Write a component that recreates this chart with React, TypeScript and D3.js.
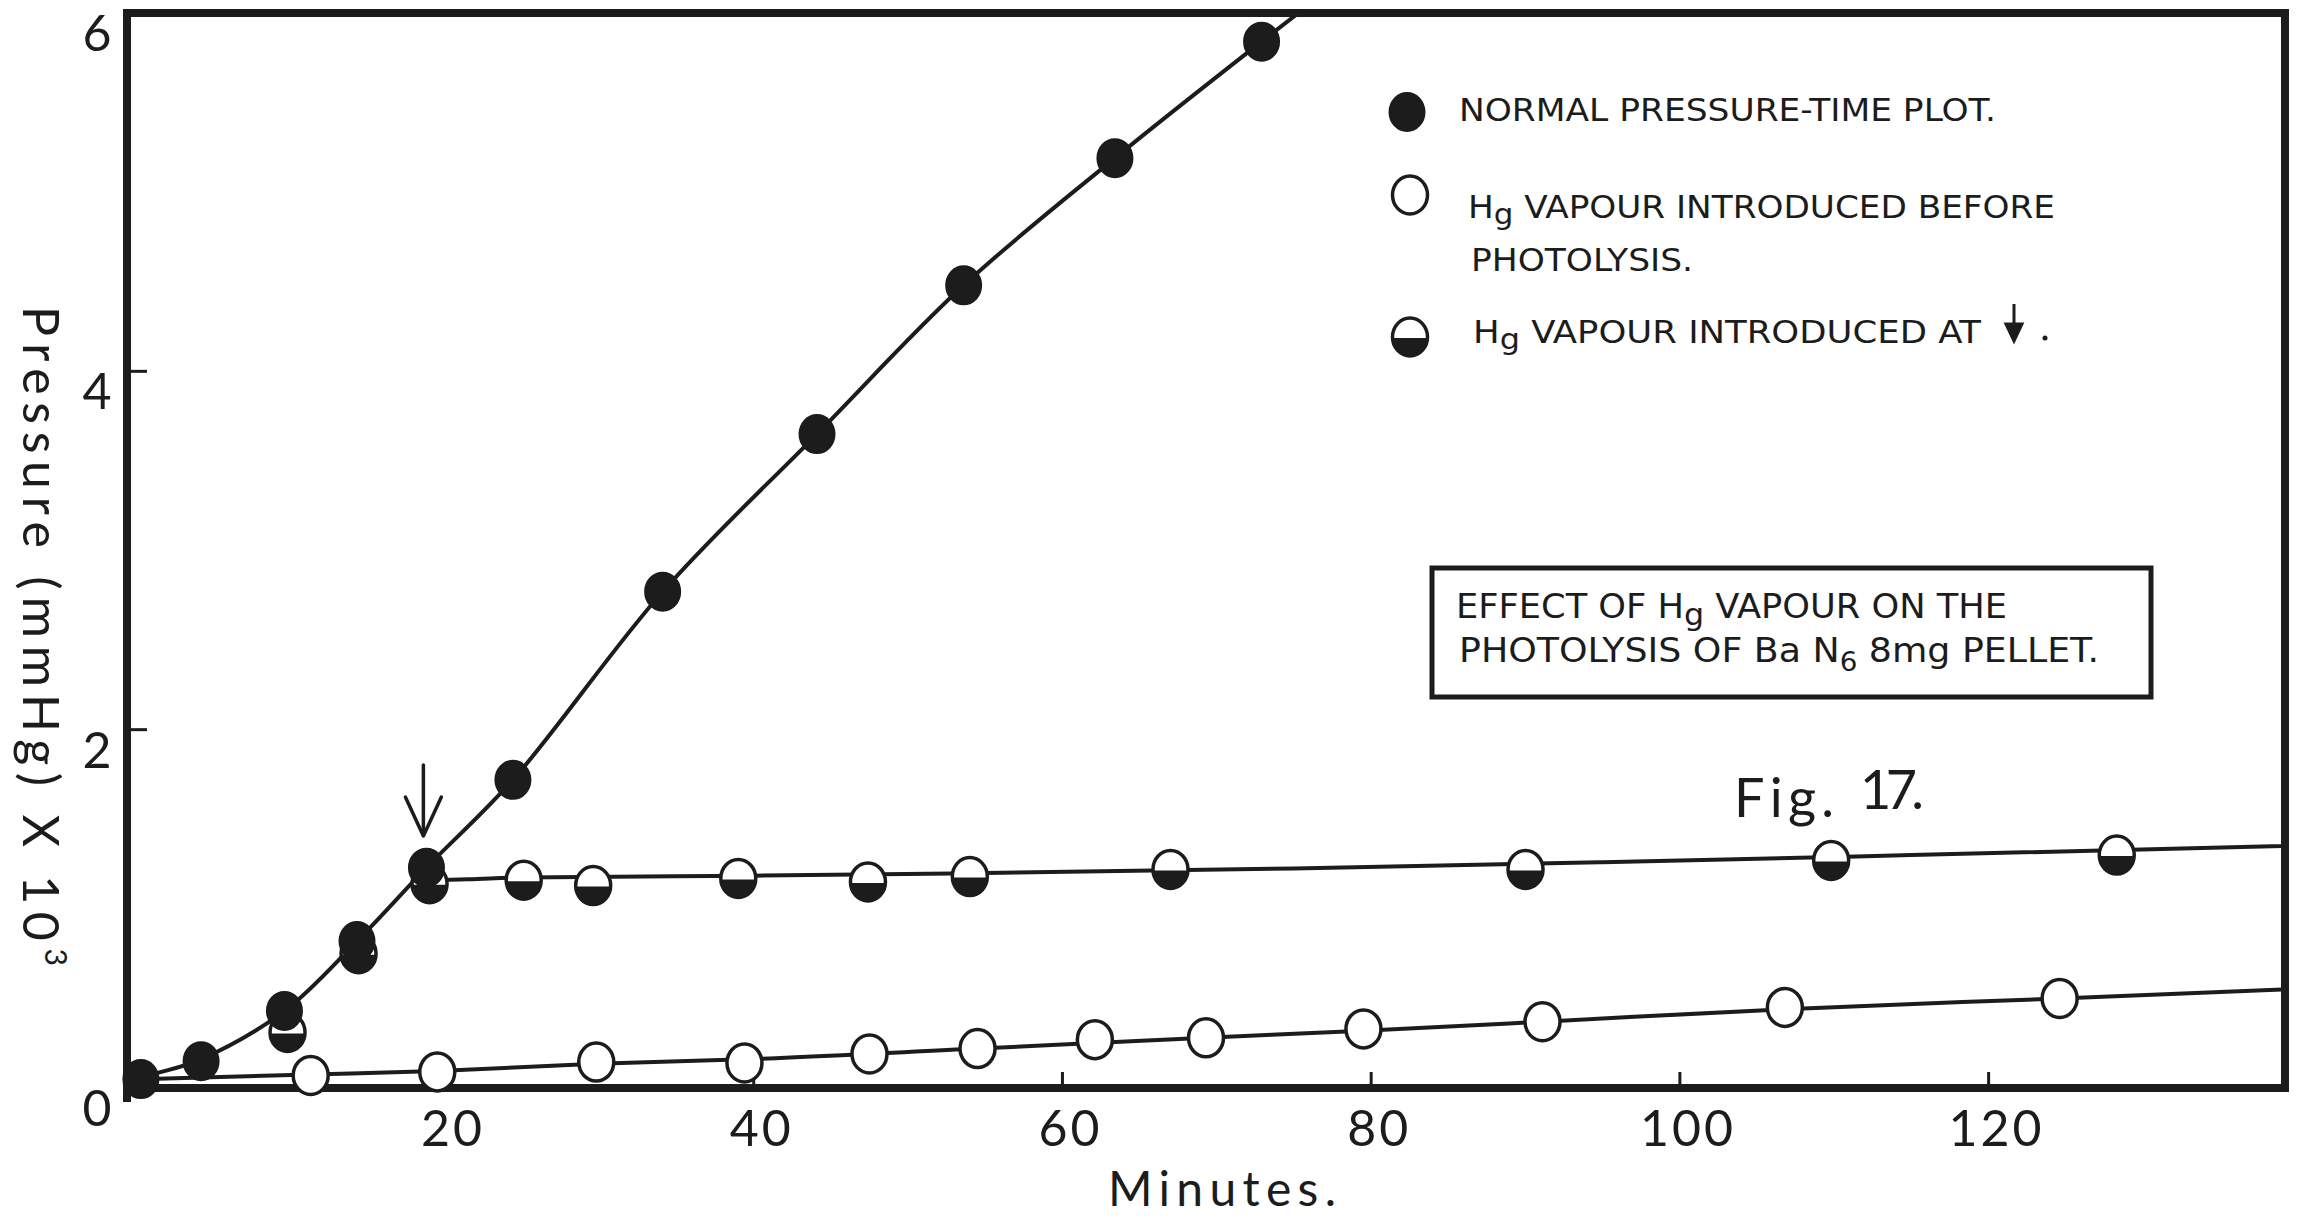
import React from 'react';
import * as d3 from 'd3';

const W = 2303;
const H = 1221;
const INK = '#1c1c1c';

// ---- axis ticks ----
const xTickValues = [20, 40, 60, 80, 100, 120];
const yTickValues = [0, 2, 4, 6];

// ---- data (minutes, pressure mmHg x 10^3) ----
const normalTime = [0.3, 4.2, 9.6, 14.3, 18.8, 24.4, 34.1, 44.1, 53.6, 63.4, 72.9];
const normalPressure = [0.05, 0.15, 0.43, 0.82, 1.23, 1.72, 2.77, 3.65, 4.48, 5.19, 5.84];

const beforeTime = [11.3, 19.5, 29.8, 39.4, 47.5, 54.5, 62.1, 69.3, 79.5, 91.1, 106.8, 124.6];
const beforePressure = [0.07, 0.09, 0.145, 0.14, 0.19, 0.22, 0.27, 0.28, 0.33, 0.37, 0.45, 0.5];

const atArrowTime = [9.8, 14.4, 19.0, 25.1, 29.6, 39.0, 47.4, 54.0, 67.0, 90.0, 109.8, 128.3];
const atArrowPressure = [0.31, 0.75, 1.14, 1.16, 1.13, 1.17, 1.15, 1.18, 1.22, 1.22, 1.27, 1.3];

// ---- hand-drawn smooth curves (knots) ----
const normalFitTime = [0, 0.3, 4.2, 9.6, 14.3, 18.8, 24.4, 34.1, 44.1, 53.6, 63.4, 72.9, 76.8];
const normalFitPressure = [0.02, 0.05, 0.16, 0.43, 0.82, 1.23, 1.72, 2.77, 3.65, 4.48, 5.19, 5.84, 6.1];

const atArrowFitTime = [19.2, 21.5, 25, 40, 55, 75, 95, 115, 139];
const atArrowFitPressure = [1.16, 1.165, 1.175, 1.185, 1.2, 1.225, 1.26, 1.3, 1.35];

const beforeFitTime = [0.5, 11.3, 19.5, 29.8, 39.4, 54.5, 69.3, 79.5, 91.1, 106.8, 124.6, 139];
const beforeFitPressure = [0.05, 0.075, 0.095, 0.135, 0.16, 0.22, 0.28, 0.32, 0.37, 0.44, 0.5, 0.55];

const arrowTime = 18.6;

const x = d3.scaleLinear().domain([-0.6, 139.2]).range([127, 2285]);
const y = d3.scaleLinear().domain([0, 6]).range([1088, 13]);

const RX = 17.5;
const RY = 19;

const zip = (a: number[], b: number[]) => a.map((v, i) => [v, b[i]] as [number, number]);

export default function App() {
  const normalLine = d3
    .line<[number, number]>()
    .x((d) => x(d[0]))
    .y((d) => y(d[1]))
    .curve(d3.curveCatmullRom.alpha(0.5));
  const smoothLine = d3
    .line<[number, number]>()
    .x((d) => x(d[0]))
    .y((d) => y(d[1]))
    .curve(d3.curveMonotoneX);

  const left = x.range()[0];
  const right = x.range()[1];
  const top = y.range()[1];
  const bottom = y.range()[0];

  const halfPath = (cx: number, cy: number) =>
    `M ${cx - RX} ${cy} A ${RX} ${RY} 0 0 0 ${cx + RX} ${cy} Z`;

  const filled = (cx: number, cy: number, k: string) => (
    <ellipse key={k} cx={cx} cy={cy} rx={RX} ry={RY} fill={INK} stroke={INK} strokeWidth={2} />
  );
  const open = (cx: number, cy: number, k: string) => (
    <ellipse key={k} cx={cx} cy={cy} rx={RX} ry={RY} fill="#fff" stroke={INK} strokeWidth={3.5} />
  );
  const half = (cx: number, cy: number, k: string) => (
    <g key={k}>
      <ellipse cx={cx} cy={cy} rx={RX} ry={RY} fill="#fff" stroke={INK} strokeWidth={3.5} />
      <path d={halfPath(cx, cy + 1)} fill={INK} />
    </g>
  );

  const tickFont = "Lato, 'Open Sans', sans-serif";
  const legendFont = "'DejaVu Sans Condensed', 'DejaVu Sans', sans-serif";

  const Hg = (size: number) => [
    <tspan key="h">H</tspan>,
    <tspan key="g" dy={size * 0.2} fontSize={size * 0.9}>g</tspan>,
    <tspan key="r" dy={-size * 0.2}>{' '}</tspan>,
  ];

  return (
    <svg
      width={W}
      height={H}
      viewBox={`0 0 ${W} ${H}`}
      style={{ position: 'absolute', left: 0, top: 0, background: '#fff' }}
    >
      <defs>
        <clipPath id="plot">
          <rect x={left} y={top} width={right - left} height={bottom - top} />
        </clipPath>
      </defs>
      <rect x={0} y={0} width={W} height={H} fill="#fff" />

      {/* frame */}
      <rect
        x={left}
        y={top}
        width={right - left}
        height={bottom - top}
        fill="none"
        stroke={INK}
        strokeWidth={8}
      />
      <line x1={left} x2={left} y1={bottom} y2={bottom + 14} stroke={INK} strokeWidth={8} />

      {/* x ticks */}
      {xTickValues.map((v) => (
        <g key={`xt${v}`}>
          <line x1={x(v)} x2={x(v)} y1={bottom} y2={bottom - 16} stroke={INK} strokeWidth={3} />
          <text
            x={x(v) + 8}
            y={bottom + 58}
            textAnchor="middle"
            fontFamily={tickFont}
            fontSize={50}
            fill={INK}
            letterSpacing={3}
          >
            {v}
          </text>
        </g>
      ))}
      {/* y ticks */}
      {yTickValues.map((v) => (
        <g key={`yt${v}`}>
          {v > 0 && v < 6 && (
            <line x1={left} x2={left + 20} y1={y(v)} y2={y(v)} stroke={INK} strokeWidth={3} />
          )}
          <text
            x={97}
            y={y(v) + 19}
            dominantBaseline="central"
            textAnchor="middle"
            fontFamily={tickFont}
            fontSize={50}
            fill={INK}
          >
            {v}
          </text>
        </g>
      ))}

      {/* axis titles */}
      <text
        x={1222}
        y={1206}
        textAnchor="middle"
        fontFamily={tickFont}
        fontSize={48}
        fill={INK}
        textLength={228}
        lengthAdjust="spacing"
      >
        Minutes.
      </text>
      <text
        transform={`translate(40, 636) rotate(90)`}
        textAnchor="middle"
        dy="0.35em"
        fontFamily={tickFont}
        fontSize={50}
        fill={INK}
        textLength={660}
        lengthAdjust="spacing"
      >
        Pressure (mmHg) X 10
        <tspan dy={-22} fontSize={30}>
          3
        </tspan>
      </text>

      {/* fitted curves */}
      <g clipPath="url(#plot)" fill="none" stroke={INK} strokeWidth={4} strokeLinecap="round">
        <path d={normalLine(zip(normalFitTime, normalFitPressure)) || ''} />
        <path d={smoothLine(zip(atArrowFitTime, atArrowFitPressure)) || ''} />
        <path d={smoothLine(zip(beforeFitTime, beforeFitPressure)) || ''} />
      </g>

      {/* markers */}
      {beforeTime.map((t, i) => open(x(t), y(beforePressure[i]), `o${i}`))}
      {atArrowTime.map((t, i) => half(x(t), y(atArrowPressure[i]), `h${i}`))}
      {normalTime.map((t, i) => filled(x(t), y(normalPressure[i]), `f${i}`))}

      {/* arrow marking Hg introduction */}
      <g stroke={INK} strokeWidth={3.5} fill="none" strokeLinecap="round" strokeLinejoin="round">
        <line x1={x(arrowTime)} x2={x(arrowTime)} y1={765} y2={832} />
        <path d={`M ${x(arrowTime) - 18} ${797} L ${x(arrowTime)} ${836} L ${x(arrowTime) + 18} ${797}`} />
      </g>

      {/* legend */}
      <g fontFamily={legendFont} fontSize={32} fill={INK}>
        {filled(1407, 112, 'lg1')}
        <text x={1459} y={121} textLength={537} lengthAdjust="spacingAndGlyphs">
          NORMAL PRESSURE-TIME PLOT.
        </text>

        {open(1410, 195, 'lg2')}
        <text x={1468} y={218} textLength={587} lengthAdjust="spacingAndGlyphs">
          {Hg(32)}VAPOUR INTRODUCED BEFORE
        </text>
        <text x={1471} y={271} textLength={222} lengthAdjust="spacingAndGlyphs">
          PHOTOLYSIS.
        </text>

        {half(1410, 337, 'lg3')}
        <text x={1473} y={343} textLength={508} lengthAdjust="spacingAndGlyphs">
          {Hg(32)}VAPOUR INTRODUCED AT
        </text>
        <g stroke={INK} strokeWidth={3} fill={INK}>
          <line x1={2014} x2={2014} y1={304} y2={328} />
          <path d={`M 2006 324 L 2014 341 L 2022 324 Z`} />
        </g>
        <circle cx={2045} cy={338} r={2.5} fill={INK} />
      </g>

      {/* title box */}
      <rect x={1432} y={568} width={719} height={129} fill="none" stroke={INK} strokeWidth={5} />
      <g fontFamily={legendFont} fontSize={34} fill={INK}>
        <text x={1456} y={618} textLength={551} lengthAdjust="spacingAndGlyphs">
          EFFECT OF {Hg(34)}VAPOUR  ON THE
        </text>
        <text x={1459} y={662} textLength={640} lengthAdjust="spacingAndGlyphs">
          PHOTOLYSIS OF Ba N
          <tspan dy={9} fontSize={26}>
            6
          </tspan>
          <tspan dy={-9}>{'  '}8mg PELLET.</tspan>
        </text>
      </g>

      {/* figure label */}
      <text
        x={1734}
        y={817}
        fontFamily={tickFont}
        fontSize={54}
        fill={INK}
        textLength={100}
        lengthAdjust="spacing"
      >
        Fig.
      </text>
      <text
        x={1860}
        y={809}
        fontFamily={tickFont}
        fontSize={54}
        fill={INK}
        textLength={64}
        lengthAdjust="spacing"
      >
        17.
      </text>
    </svg>
  );
}
